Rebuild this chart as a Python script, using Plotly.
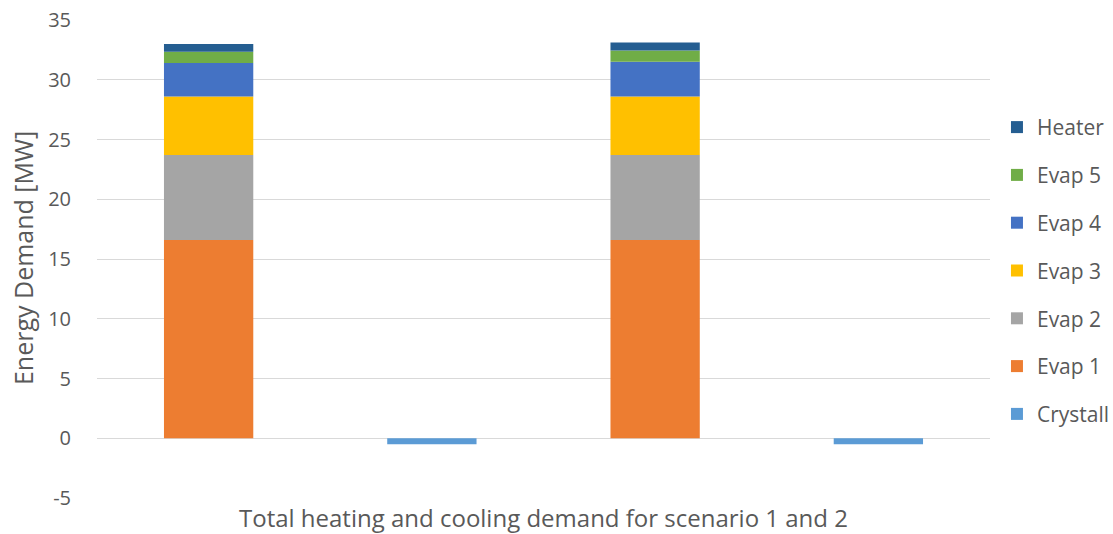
import plotly.graph_objects as go

categories = [0, 1, 2, 3]
series_names = ["Crystall", "Evap 1", "Evap 2", "Evap 3", "Evap 4", "Evap 5", "Heater"]
crystall = [None, -0.5, None, -0.5]
evap1 = [16.6, None, 16.6, None]
evap2 = [7.1, None, 7.1, None]
evap3 = [4.9, None, 4.9, None]
evap4 = [2.8, None, 2.9, None]
evap5 = [0.95, None, 0.95, None]
heater = [0.65, None, 0.67, None]
colors = ["#5B9BD5", "#ED7D31", "#A5A5A5", "#FFC000", "#4472C4", "#70AD47", "#255E91"]
y_ticks = [-5, 0, 5, 10, 15, 20, 25, 30, 35]
y_tick_labels = ["-5", "0", "5", "10", "15", "20", "25", "30", "35"]
x_title = "Total heating and cooling demand for scenario 1 and 2"
y_title = "Energy Demand [MW]"

values = [crystall, evap1, evap2, evap3, evap4, evap5, heater]
FONT = "Open Sans, Carlito, Calibri, sans-serif"
TXT = "#595959"

fig = go.Figure()
n = len(series_names)
for i, (name, vals, col) in enumerate(zip(series_names, values, colors)):
    fig.add_trace(go.Bar(
        x=categories, y=vals, name=name, legendgroup=name, legendrank=n - i,
        marker=dict(color=col, line=dict(width=0)), width=0.4,
    ))

fig.add_annotation(
    text=y_title, textangle=-90, xref="paper", yref="paper",
    x=-0.0834, y=0.501, xanchor="center", yanchor="middle", showarrow=False,
    font=dict(family=FONT, size=25, color=TXT),
)
fig.add_annotation(
    text=x_title, xref="paper", yref="paper",
    x=0.5, y=-0.0404, xanchor="center", yanchor="middle", showarrow=False,
    font=dict(family=FONT, size=24, color=TXT),
)

fig.update_layout(
    barmode="relative",
    width=1113, height=534,
    margin=dict(l=97, r=123, t=19.5, b=36.3, pad=0, autoexpand=False),
    paper_bgcolor="white", plot_bgcolor="white",
    font=dict(family=FONT, color=TXT, size=16),
    showlegend=True,
    legend=dict(
        traceorder="grouped", tracegroupgap=17.5,
        x=1.0078, xanchor="left", y=0.475, yanchor="middle",
        font=dict(family=FONT, size=21, color=TXT),
        itemwidth=30, bgcolor="rgba(0,0,0,0)",
    ),
    xaxis=dict(
        range=[-0.5, 3.5], showticklabels=False, showgrid=False, zeroline=False,
        ticks="", showline=False, automargin=False,
    ),
    yaxis=dict(
        range=[-5, 35], tickvals=y_ticks, ticktext=y_tick_labels,
        showgrid=True, gridcolor="#D9D9D9", gridwidth=1.3,
        zeroline=True, zerolinecolor="#D9D9D9", zerolinewidth=1.3,
        showline=False, ticks="", ticklabelstandoff=25, automargin=False,
        tickfont=dict(family=FONT, size=20, color=TXT),
    ),
)

fig.write_html(
    "out.html",
    config={"displayModeBar": False},
    post_script="document.body.style.margin='0';document.body.style.overflow='hidden';",
)
